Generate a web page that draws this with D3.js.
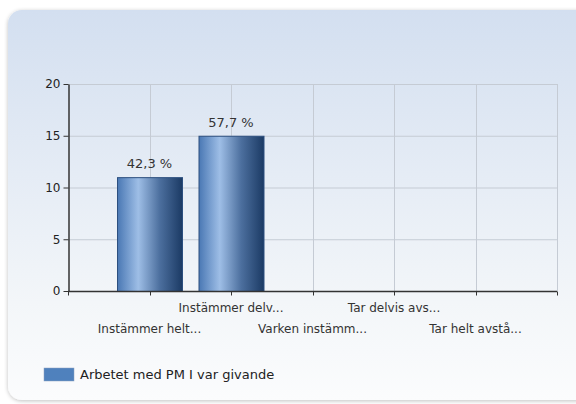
<!DOCTYPE html>
<html>
<head>
<meta charset="utf-8">
<script src="https://cdn.jsdelivr.net/npm/d3@7"></script>
<style>
  body { margin: 0; background: #fff; }
  svg { display: block; font-family: "DejaVu Sans", Verdana, sans-serif; }
</style>
</head>
<body>
<svg id="chart" width="576" height="404"></svg>
<script>
const categories = ["Instämmer helt...", "Instämmer delv...", "Varken instämm...", "Tar delvis avs...", "Tar helt avstå..."];
const counts = [11, 15, 0, 0, 0];
const percentLabels = ["42,3 %", "57,7 %", "", "", ""];
const yTicks = [0, 5, 10, 15, 20];
const seriesName = "Arbetet med PM I var givande";

const svg = d3.select("#chart");
const width = 576, height = 404;
const margin = { top: 84, right: 19, bottom: 113, left: 68 };

const defs = svg.append("defs");
const bg = defs.append("linearGradient").attr("id", "bg").attr("x1", 0).attr("y1", 0).attr("x2", 0).attr("y2", 1);
bg.append("stop").attr("offset", "0%").attr("stop-color", "#d3dff0");
bg.append("stop").attr("offset", "75%").attr("stop-color", "#f3f6f9");
bg.append("stop").attr("offset", "100%").attr("stop-color", "#fbfcfd");

const barGrad = defs.append("linearGradient").attr("id", "bar").attr("x1", 0).attr("y1", 0).attr("x2", 1).attr("y2", 0);
barGrad.append("stop").attr("offset", "0%").attr("stop-color", "#4a78b4");
barGrad.append("stop").attr("offset", "32%").attr("stop-color", "#9ebee6");
barGrad.append("stop").attr("offset", "65%").attr("stop-color", "#4c6f9e");
barGrad.append("stop").attr("offset", "100%").attr("stop-color", "#1b3a64");

const shadow = defs.append("filter").attr("id", "shadow").attr("x", -0.05).attr("y", -0.05).attr("width", 1.1).attr("height", 1.1);
shadow.append("feGaussianBlur").attr("in", "SourceAlpha").attr("stdDeviation", 2);
shadow.append("feOffset").attr("dx", 0).attr("dy", 1).attr("result", "b");
shadow.append("feComponentTransfer").append("feFuncA").attr("type", "linear").attr("slope", 0.25);
const merge = shadow.append("feMerge");
merge.append("feMergeNode");
merge.append("feMergeNode").attr("in", "SourceGraphic");

// panel
svg.append("rect")
  .attr("x", 8).attr("y", 10)
  .attr("width", 590).attr("height", 390)
  .attr("rx", 14)
  .attr("fill", "url(#bg)")
  .attr("filter", "url(#shadow)");

const x = d3.scalePoint()
  .domain(categories)
  .range([margin.left, width - margin.right])
  .padding(1);

const y = d3.scaleLinear()
  .domain([0, 20])
  .range([height - margin.bottom, margin.top]);

const step = x.step();
const edges = d3.range(categories.length + 2).map(i => margin.left + i * step);

// grid
const grid = svg.append("g");
grid.selectAll(".hg")
  .data(yTicks.slice(1))
  .join("line")
  .attr("x1", margin.left).attr("x2", width - margin.right)
  .attr("y1", d => y(d) + 0.5).attr("y2", d => y(d) + 0.5)
  .attr("stroke", "#c5cbd4");
grid.selectAll(".vg")
  .data(categories)
  .join("line")
  .attr("x1", d => Math.round(x(d)) + 0.5).attr("x2", d => Math.round(x(d)) + 0.5)
  .attr("y1", margin.top).attr("y2", height - margin.bottom)
  .attr("stroke", "#c5cbd4");
grid.append("line")
  .attr("x1", width - margin.right + 0.5).attr("x2", width - margin.right + 0.5)
  .attr("y1", margin.top).attr("y2", height - margin.bottom)
  .attr("stroke", "#c5cbd4");

// bars
const barW = 65;
const barData = categories.map((c, i) => ({ c, v: counts[i], p: percentLabels[i] })).filter(d => d.v > 0);
svg.append("g").selectAll("rect")
  .data(barData)
  .join("rect")
  .attr("x", d => x(d.c) - barW / 2 + 0.5)
  .attr("y", d => y(d.v) + 0.5)
  .attr("width", barW)
  .attr("height", d => y(0) - y(d.v))
  .attr("fill", "url(#bar)")
  .attr("stroke", "#2c4f7f")
  .attr("stroke-width", 1);

svg.append("g").selectAll("text")
  .data(barData)
  .join("text")
  .attr("x", d => x(d.c))
  .attr("y", d => y(d.v) - 9)
  .attr("text-anchor", "middle")
  .attr("font-size", 13)
  .attr("fill", "#333")
  .text(d => d.p);

// y axis
const yAxis = svg.append("g")
  .attr("transform", `translate(${margin.left + 0.5},0)`)
  .call(d3.axisLeft(y).tickValues(yTicks).tickSize(5).tickSizeOuter(0).tickPadding(3))
  .call(g => g.select(".domain").attr("stroke", "#333").attr("stroke-width", 1.5));
yAxis.selectAll(".tick line").attr("stroke", "#333");
yAxis.selectAll(".tick text").attr("font-size", 12).attr("fill", "#222").attr("font-family", "DejaVu Sans, Verdana, sans-serif");

// x axis
const xAxisG = svg.append("g")
  .attr("transform", `translate(0,${height - margin.bottom + 0.5})`);
xAxisG.append("line")
  .attr("x1", margin.left).attr("x2", width - margin.right)
  .attr("stroke", "#333").attr("stroke-width", 1.5);
xAxisG.selectAll(".xt")
  .data([edges[0], edges[edges.length - 1]].concat(categories.map(c => x(c))))
  .join("line")
  .attr("x1", d => Math.round(d) + 0.5).attr("x2", d => Math.round(d) + 0.5)
  .attr("y1", 0).attr("y2", 4)
  .attr("stroke", "#333");
xAxisG.selectAll("text")
  .data(categories)
  .join("text")
  .attr("x", d => x(d))
  .attr("y", (d, i) => i % 2 === 1 ? 20 : 41)
  .attr("text-anchor", "middle")
  .attr("font-size", 12)
  .attr("fill", "#333")
  .text(d => d);

// legend
const legend = svg.append("g").attr("transform", "translate(44,368)");
legend.append("rect")
  .attr("width", 30).attr("height", 13)
  .attr("fill", "#4f81bd")
  .attr("stroke", "#8aa0bf").attr("stroke-width", 0.5);
legend.append("text")
  .attr("x", 36).attr("y", 11)
  .attr("font-size", 13)
  .attr("fill", "#222")
  .text(seriesName);
</script>
</body>
</html>
